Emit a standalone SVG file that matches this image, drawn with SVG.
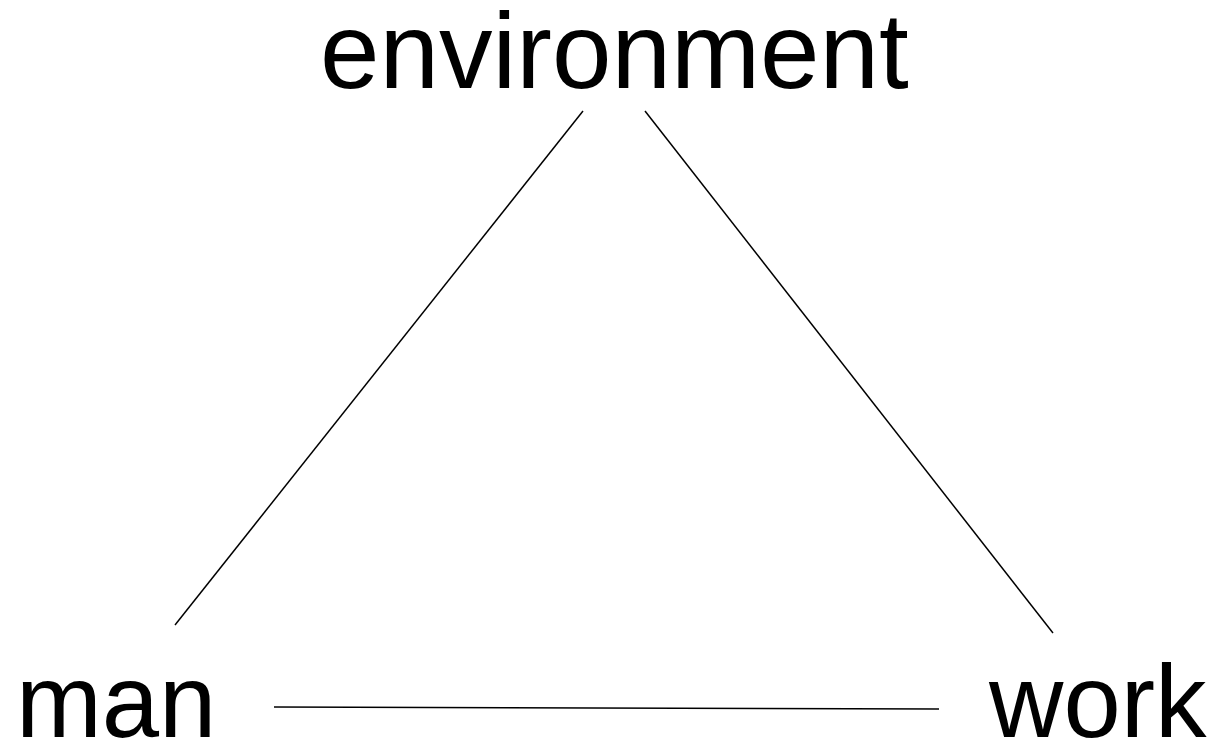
<svg xmlns="http://www.w3.org/2000/svg" width="1220" height="748" viewBox="0 0 1220 748">
<style>
.lbl{font-family:"Liberation Sans",Arial,sans-serif;fill:#000}
.top{font-size:107px}
.bot{font-size:103px}
.edge{stroke:#000;stroke-width:1.5;fill:none}
</style>
<rect width="1220" height="748" fill="#fff"/>
<g id="connectors">
<line class="edge" x1="583" y1="111" x2="175" y2="625"/>
<line class="edge" x1="645" y1="111" x2="1053" y2="633"/>
<line class="edge" x1="274" y1="707" x2="939" y2="709"/>
</g>
<g id="environment"><text class="lbl top" x="320" y="88">environment</text></g>
<g id="man"><text class="lbl bot" x="16" y="737">man</text></g>
<g id="work"><text class="lbl bot" x="989" y="737">work</text></g>
</svg>
